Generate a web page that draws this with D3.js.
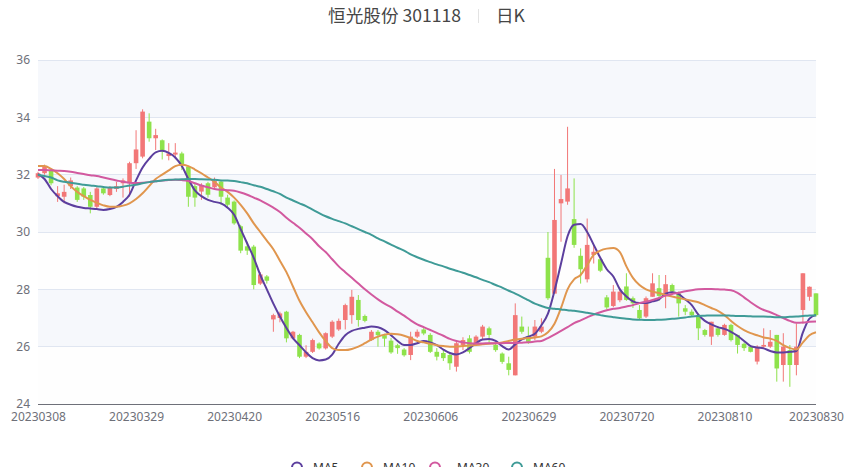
<!DOCTYPE html>
<html><head><meta charset="utf-8">
<script src="https://cdn.jsdelivr.net/npm/d3@7/dist/d3.min.js"></script>
<style>body{margin:0;background:#fff;overflow:hidden;} svg{display:block;font-family:"Noto Sans","Noto Sans CJK SC",sans-serif;}</style>
</head><body><svg id="c" width="850" height="467"></svg>
<script>
const dates = ["20230308","20230309","20230310","20230313","20230314","20230315","20230316","20230317","20230320","20230321","20230322","20230323","20230324","20230327","20230328","20230329","20230330","20230331",
"20230403","20230404","20230406","20230407","20230410","20230411","20230412","20230413","20230414","20230417","20230418","20230419","20230420","20230421","20230424","20230425","20230426","20230427","20230428",
"20230504","20230505","20230508","20230509","20230510","20230511","20230512","20230515","20230516","20230517","20230518","20230519","20230522","20230523","20230524","20230525","20230526","20230529","20230530","20230531",
"20230601","20230602","20230605","20230606","20230607","20230608","20230609","20230612","20230613","20230614","20230615","20230616","20230619","20230620","20230621","20230626","20230627","20230628","20230629","20230630",
"20230703","20230704","20230705","20230706","20230707","20230710","20230711","20230712","20230713","20230714","20230717","20230718","20230719","20230720","20230721","20230724","20230725","20230726","20230727","20230728","20230731",
"20230801","20230802","20230803","20230804","20230807","20230808","20230809","20230810","20230811","20230814","20230815","20230816","20230817","20230818","20230821","20230822","20230823","20230824","20230825","20230828","20230829","20230830"];

const opens = [31.9,32.05,32.15,31.25,31.23,31.6,31.55,31.52,31.29,30.88,31.52,31.29,31.5,31.7,31.7,32.4,32.63,33.85,33.27,33.2,
32.65,32.7,32.74,32.28,31.6,31.41,31.7,31.56,31.76,31.2,31.06,30.2,29.5,29.49,28.2,28.45,26.95,27.0,27.22,26.29,
26.41,25.65,25.82,26.11,25.94,26.35,26.6,26.93,27.1,27.63,27.07,26.23,26.52,26.4,26.21,26.05,25.9,25.71,26.35,26.6,
26.41,25.82,25.78,25.71,25.3,26.06,26.29,26.12,26.35,26.64,26.06,25.76,25.42,25.0,26.7,26.35,26.35,26.52,29.1,27.85,
31.0,31.06,30.45,29.17,28.35,29.2,29.05,27.72,27.42,27.62,28.1,27.69,27.28,27.05,27.74,28.04,27.77,28.15,27.86,27.34,
27.22,27.1,26.58,26.35,26.64,26.41,26.76,26.41,26.1,26.0,25.48,26.0,26.0,26.41,25.36,25.88,25.36,27.28,27.74,27.86];
const closes = [32.05,32.28,31.7,31.35,31.4,31.8,31.12,31.23,30.88,31.52,31.35,31.55,31.6,31.8,32.4,32.88,34.2,33.27,33.38,32.86,
32.74,32.77,32.34,31.23,31.2,31.64,31.3,31.78,31.23,30.95,30.3,29.35,29.35,28.15,28.52,28.3,27.1,27.16,26.29,26.52,
25.65,25.82,26.23,25.94,26.47,26.87,26.9,27.45,27.74,26.93,26.9,26.52,26.4,26.28,25.8,25.95,25.7,26.35,26.52,26.46,
25.82,25.65,25.6,25.42,26.12,26.23,25.82,26.35,26.7,26.41,25.88,25.47,25.19,27.1,26.52,26.17,26.7,26.7,27.69,30.42,
31.15,31.52,29.55,28.7,29.55,29.31,28.65,27.37,27.92,27.92,27.63,27.51,26.99,27.69,28.21,27.77,28.18,27.92,27.51,27.22,
27.1,26.64,26.41,26.87,26.41,26.76,26.23,26.06,25.95,25.82,26.0,26.06,26.17,25.24,26.0,25.36,26.0,28.56,28.09,27.1];
const lows = [31.85,32.0,31.63,31.05,31.0,31.5,31.05,31.12,30.65,30.83,31.3,31.25,31.4,31.2,31.23,32.2,32.57,33.15,32.86,32.53,
32.5,32.54,32.16,30.88,30.88,31.12,31.2,31.5,30.95,30.85,30.25,29.26,29.2,28.0,28.15,28.2,26.52,26.85,26.15,26.25,
25.6,25.6,25.78,25.9,25.9,26.3,26.55,26.6,26.8,26.7,26.85,26.2,26.0,26.0,25.75,25.75,25.65,25.53,26.3,26.4,
25.78,25.52,25.5,25.19,25.13,25.88,25.76,26.08,26.25,26.12,25.82,25.4,25.0,25.0,26.45,26.1,26.23,26.47,27.63,27.85,
29.66,30.95,29.45,28.2,28.24,28.9,28.6,27.3,27.38,27.55,27.6,27.35,26.95,27.0,27.74,27.6,27.34,27.85,27.05,27.1,
27.05,26.23,26.35,26.06,26.35,26.38,26.18,25.76,25.85,25.8,25.38,25.95,25.95,24.78,24.78,24.6,25.0,26.8,27.6,27.05];
const highs = [32.1,32.35,32.2,31.6,31.65,31.9,31.6,31.57,31.4,31.56,31.6,31.6,31.75,31.87,32.45,33.55,34.28,34.14,33.6,33.23,
33.1,33.1,32.8,32.3,31.7,31.7,31.75,31.9,31.82,31.3,31.1,30.25,29.66,29.55,28.6,28.5,27.15,27.22,27.25,26.55,
26.45,26.05,26.28,26.15,26.5,26.92,26.98,27.5,27.98,27.8,27.12,26.58,26.58,26.45,26.3,26.1,25.95,26.52,26.6,26.65,
26.47,25.95,25.9,25.75,26.17,26.33,26.4,26.4,26.76,26.7,26.12,25.8,25.65,27.51,27.05,26.7,26.93,26.99,30.0,32.2,
31.99,33.67,31.87,29.43,30.47,29.55,29.1,27.8,28.15,28.05,28.56,27.75,27.45,27.75,28.56,28.5,28.5,28.2,27.92,27.45,
27.3,27.15,26.62,26.87,26.7,26.8,26.8,26.41,26.15,26.05,26.05,26.64,26.58,26.41,26.47,26.06,26.81,28.56,28.1,27.86];

const ma5 = [32.02,31.85,31.5,31.25,31.05,30.95,30.88,30.84,30.82,30.8,30.77,30.8,30.88,31.05,31.3,31.8,32.25,32.55,32.78,32.83,
32.76,32.6,32.3,31.85,31.45,31.25,31.12,31.05,31.0,30.85,30.6,30.1,29.6,29.1,28.5,28.0,27.5,27.05,26.65,26.3,
26.05,25.8,25.6,25.52,25.55,25.72,26.1,26.4,26.55,26.62,26.66,26.7,26.68,26.58,26.4,26.2,26.06,26.06,26.12,26.2,
26.15,26.05,25.9,25.78,25.73,25.8,25.95,26.12,26.25,26.27,26.2,26.02,25.9,26.08,26.25,26.35,26.45,26.75,27.15,27.95,
28.9,29.85,30.25,30.28,30.0,29.55,29.1,28.7,28.45,28.0,27.75,27.58,27.52,27.52,27.58,27.65,27.85,27.9,27.83,27.65,
27.45,27.12,26.9,26.78,26.68,26.62,26.52,26.38,26.2,26.02,25.97,25.94,25.85,25.8,25.8,25.82,25.85,26.5,26.98,27.1];
const ma10 = [32.3,32.3,32.2,32.05,31.85,31.6,31.4,31.25,31.12,31.02,30.93,30.88,30.88,30.92,31.0,31.15,31.35,31.6,31.85,32.0,
32.15,32.3,32.35,32.3,32.18,32.05,31.9,31.75,31.55,31.4,31.2,30.95,30.65,30.3,30.0,29.7,29.4,29.0,28.6,28.1,
27.6,27.2,26.85,26.5,26.2,25.95,25.88,25.88,25.92,26.0,26.12,26.25,26.35,26.42,26.45,26.43,26.38,26.3,26.2,26.15,
26.1,26.05,26.02,26.0,26.0,26.02,26.04,26.06,26.08,26.1,26.12,26.15,26.2,26.25,26.28,26.3,26.32,26.36,26.5,26.8,
27.35,28.0,28.35,28.5,28.85,29.2,29.35,29.42,29.44,29.3,28.8,28.4,28.15,28.0,27.92,27.87,27.8,27.75,27.7,27.65,
27.6,27.55,27.45,27.35,27.25,27.1,26.9,26.72,26.58,26.47,26.4,26.32,26.28,26.2,26.05,25.95,25.9,26.15,26.4,26.5];
const ma30 = [32.16,32.16,32.15,32.14,32.13,32.1,32.06,32.02,31.98,31.95,31.9,31.85,31.8,31.75,31.72,31.71,31.72,31.74,31.77,31.8,
31.81,31.82,31.81,31.78,31.7,31.62,31.56,31.5,31.47,31.46,31.44,31.38,31.3,31.2,31.1,30.98,30.85,30.7,30.5,30.32,
30.15,29.95,29.75,29.5,29.3,29.05,28.8,28.6,28.4,28.2,28.0,27.82,27.65,27.5,27.38,27.22,27.08,26.92,26.78,26.68,
26.58,26.48,26.38,26.27,26.2,26.15,26.12,26.11,26.11,26.12,26.12,26.12,26.13,26.13,26.14,26.15,26.18,26.2,26.3,26.42,
26.55,26.68,26.82,26.92,27.02,27.12,27.2,27.27,27.32,27.35,27.4,27.45,27.52,27.57,27.63,27.7,27.78,27.84,27.88,27.93,
27.97,28.0,28.01,28.01,28.0,27.99,27.97,27.88,27.72,27.55,27.4,27.28,27.2,27.1,27.0,26.9,26.83,26.84,26.87,26.88];
const ma60 = [32.0,31.95,31.9,31.8,31.75,31.72,31.68,31.65,31.62,31.6,31.57,31.55,31.55,31.58,31.62,31.65,31.7,31.74,31.77,31.8,
31.82,31.83,31.84,31.85,31.85,31.84,31.83,31.82,31.8,31.8,31.78,31.74,31.7,31.63,31.58,31.5,31.42,31.33,31.2,31.1,
31.0,30.9,30.78,30.66,30.55,30.46,30.38,30.3,30.2,30.1,30.0,29.9,29.78,29.67,29.56,29.45,29.35,29.22,29.12,29.03,
28.95,28.87,28.8,28.72,28.65,28.58,28.5,28.42,28.33,28.25,28.15,28.06,27.95,27.85,27.74,27.62,27.5,27.42,27.35,27.32,
27.3,27.27,27.25,27.22,27.18,27.14,27.1,27.06,27.03,27.0,26.97,26.95,26.94,26.93,26.93,26.94,26.95,26.97,26.99,27.02,
27.05,27.07,27.08,27.09,27.09,27.09,27.08,27.07,27.07,27.06,27.05,27.05,27.04,27.03,27.03,27.04,27.05,27.07,27.09,27.1];

const yTicks = [24,26,28,30,32,34,36];
const xTickLabels = ["20230308","20230329","20230420","20230516","20230606","20230629","20230720","20230810","20230830"];
const maSeries = [
  {name:"MA5", values:ma5, color:"#5c3f9e"},
  {name:"MA10", values:ma10, color:"#e0964e"},
  {name:"MA30", values:ma30, color:"#d2599f"},
  {name:"MA60", values:ma60, color:"#3f9b97"}
];
const upColor = "#f27777", downColor = "#8ee24b";

const svg = d3.select("#c");
const L = 38, R = 816, T = 60, B = 404;
const x = d3.scalePoint().domain(dates).range([L, R]);
const y = d3.scaleLinear().domain([24, 36]).range([B, T]);

// split areas
const bands = svg.append("g");
for (let k = 0; k < yTicks.length - 1; k++) {
  bands.append("rect").attr("x", L).attr("width", R - L)
    .attr("y", y(yTicks[k+1])).attr("height", y(yTicks[k]) - y(yTicks[k+1]))
    .attr("fill", k % 2 === 0 ? "rgba(250,250,250,0.2)" : "rgba(210,219,238,0.2)");
}
// grid lines
svg.append("g").selectAll("line").data(yTicks.slice(1)).join("line")
  .attr("x1", L).attr("x2", R).attr("y1", d => y(d)).attr("y2", d => y(d))
  .attr("stroke", "#e0e6f1").attr("stroke-width", 1).attr("shape-rendering", "crispEdges");

// y axis
const yAxis = d3.axisLeft(y).tickValues(yTicks).tickSize(0).tickPadding(8);
const gy = svg.append("g").attr("transform", `translate(${L},0)`).call(yAxis);
gy.select(".domain").remove();
gy.selectAll("text").attr("fill", "#6e7079").style("font-size", "12px").style("font-family", "'Noto Sans',sans-serif");

// x axis
const xAxis = d3.axisBottom(x).tickValues(xTickLabels).tickSize(0).tickPadding(8);
const gx = svg.append("g").attr("transform", `translate(0,${B})`).call(xAxis);
gx.select(".domain").attr("stroke", "#6e7079").attr("d", `M${L},0.5H${R}`);
gx.selectAll("text").attr("fill", "#6e7079").style("font-size", "12px").style("font-family", "'Noto Sans',sans-serif");

// candles
const bw = 4.6;
const cg = svg.append("g");
dates.forEach((d, i) => {
  const o = opens[i], c = closes[i], lo = lows[i], hi = highs[i];
  const col = c >= o ? upColor : downColor;
  const cx = x(d);
  cg.append("line").attr("x1", cx).attr("x2", cx).attr("y1", y(hi)).attr("y2", y(lo))
    .attr("stroke", col).attr("stroke-width", 1);
  const top = y(Math.max(o, c)), bot = y(Math.min(o, c));
  cg.append("rect").attr("x", cx - bw/2).attr("width", bw)
    .attr("y", top).attr("height", Math.max(1, bot - top)).attr("fill", col);
});

// MA lines
const line = d3.line().x((v, i) => x(dates[i])).y(v => y(v)).curve(d3.curveMonotoneX);
maSeries.forEach(s => {
  svg.append("path").attr("d", line(s.values)).attr("fill", "none")
    .attr("stroke", s.color).attr("stroke-width", 2);
});

// title
const tg = svg.append("g").style("font-family", "'Noto Sans CJK SC','Noto Sans',sans-serif");
tg.append("text").attr("x", 461).attr("y", 22).attr("text-anchor", "end")
  .attr("fill", "#464646").style("font-size", "17.6px").text("恒光股份 301118");
tg.append("line").attr("x1", 478.5).attr("x2", 478.5).attr("y1", 9).attr("y2", 23).attr("stroke", "#e3e3e3");
tg.append("text").attr("x", 496).attr("y", 22).attr("fill", "#464646").style("font-size", "17.6px").text("日K");

// legend
const legendPos = [{cx:297, tx:313},{cx:367, tx:383},{cx:435, tx:457},{cx:517, tx:533}];
const lg = svg.append("g");
maSeries.forEach((s, i) => {
  lg.append("circle").attr("cx", legendPos[i].cx).attr("cy", 467.5).attr("r", 5)
    .attr("fill", "#fff").attr("stroke", s.color).attr("stroke-width", 2);
  lg.append("text").attr("x", legendPos[i].tx).attr("y", 472).attr("fill", "#333")
    .style("font-size", "12px").text(s.name);
});
</script></body></html>
